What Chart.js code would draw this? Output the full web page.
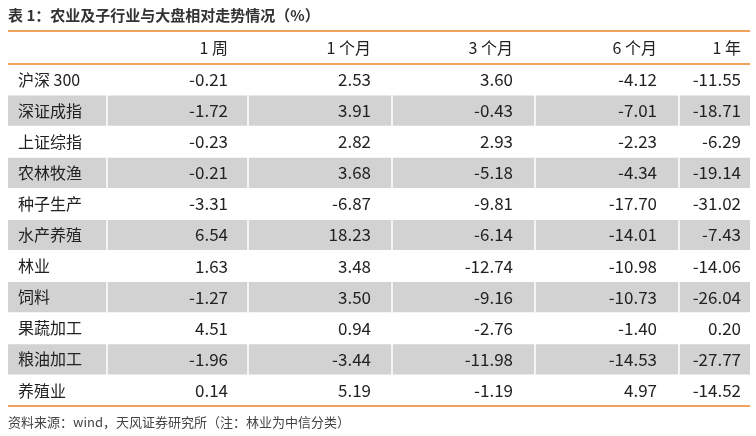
<!DOCTYPE html>
<html><head><meta charset="utf-8">
<script src="https://cdn.jsdelivr.net/npm/chart.js@4"></script>
<style>html,body{margin:0;padding:0;background:#fff}#w{width:756px;height:436px}</style>
</head><body><div id="w"><canvas id="c"></canvas></div>
<script>
const title = '表 1：农业及子行业与大盘相对走势情况（%）';
const footer = '资料来源：wind，天风证券研究所（注：林业为中信分类）';
const columns = ['1 周', '1 个月', '3 个月', '6 个月', '1 年'];
const rows = ['沪深 300','深证成指','上证综指','农林牧渔','种子生产','水产养殖','林业','饲料','果蔬加工','粮油加工','养殖业'];
const week =   ['-0.21','-1.72','-0.23','-0.21','-3.31','6.54','1.63','-1.27','4.51','-1.96','0.14'];
const month1 = ['2.53','3.91','2.82','3.68','-6.87','18.23','3.48','3.50','0.94','-3.44','5.19'];
const month3 = ['3.60','-0.43','2.93','-5.18','-9.81','-6.14','-12.74','-9.16','-2.76','-11.98','-1.19'];
const month6 = ['-4.12','-7.01','-2.23','-4.34','-17.70','-14.01','-10.98','-10.73','-1.40','-14.53','4.97'];
const year1 =  ['-11.55','-18.71','-6.29','-19.14','-31.02','-7.43','-14.06','-26.04','0.20','-27.77','-14.52'];
const colData = [week, month1, month3, month6, year1];
const colRight = [228, 371, 513, 657, 741];
const shade = rows.map((r,i)=> i%2===1 ? 750 : 0);
const FONT = '"Liberation Sans Narrow","Noto Sans CJK SC",sans-serif';
const CJK = '"Noto Sans CJK SC",sans-serif';
const ORANGE = '#f0a35a';

const tablePlugin = {
  id:'table',
  afterDatasetsDraw(chart){
    const ctx = chart.ctx, y = chart.scales.y, x = chart.scales.x;
    ctx.save();
    // column separators in shaded rows
    ctx.strokeStyle = '#fff'; ctx.lineWidth = 1.5;
    const seps = [107, 248, 392, 535, 679];
    rows.forEach((r,i)=>{
      if (!shade[i]) return;
      const yc = y.getPixelForValue(i), h = (y.getPixelForValue(1)-y.getPixelForValue(0));
      seps.forEach(s=>{ctx.beginPath();ctx.moveTo(s,yc-h/2);ctx.lineTo(s,yc+h/2);ctx.stroke();});
    });
    ctx.fillStyle = '#222'; ctx.textBaseline = 'middle';
    ctx.font = '16px ' + CJK;
    ctx.textAlign = 'left';
    rows.forEach((r,i)=> ctx.fillText(r, 18, y.getPixelForValue(i)));
    ctx.font = '17px ' + FONT; ctx.textAlign = 'right';
    colData.forEach((col,c)=> col.forEach((v,i)=> ctx.fillText(v, colRight[c], y.getPixelForValue(i))));
    // header
    ctx.font = '16px ' + CJK; ctx.fillStyle = '#222';
    columns.forEach((h,c)=> ctx.fillText(h, colRight[c], 48));
    // title & footer
    ctx.textAlign = 'left';
    ctx.font = 'bold 15px ' + CJK; ctx.fillStyle = '#333';
    ctx.fillText(title, 8, 15);
    ctx.font = '13px ' + CJK; ctx.fillStyle = '#444';
    ctx.fillText(footer, 8, 422);
    // orange rules
    ctx.strokeStyle = ORANGE; ctx.lineWidth = 2;
    [31, 64, 406].forEach(yy=>{ctx.beginPath();ctx.moveTo(8,yy);ctx.lineTo(750,yy);ctx.stroke();});
    ctx.restore();
  }
};

new Chart(document.getElementById('c'), {
  type:'bar',
  data:{labels:rows, datasets:[{data:shade, backgroundColor:'#d2d2d2', barPercentage:1, categoryPercentage:0.97}]},
  options:{
    indexAxis:'y', responsive:true, maintainAspectRatio:false, animation:false,
    layout:{padding:{top:64, bottom:30, left:8, right:6}},
    plugins:{legend:{display:false}, tooltip:{enabled:false}},
    scales:{x:{display:false,min:8,max:750}, y:{display:false}}
  },
  plugins:[tablePlugin]
});
</script></body></html>
